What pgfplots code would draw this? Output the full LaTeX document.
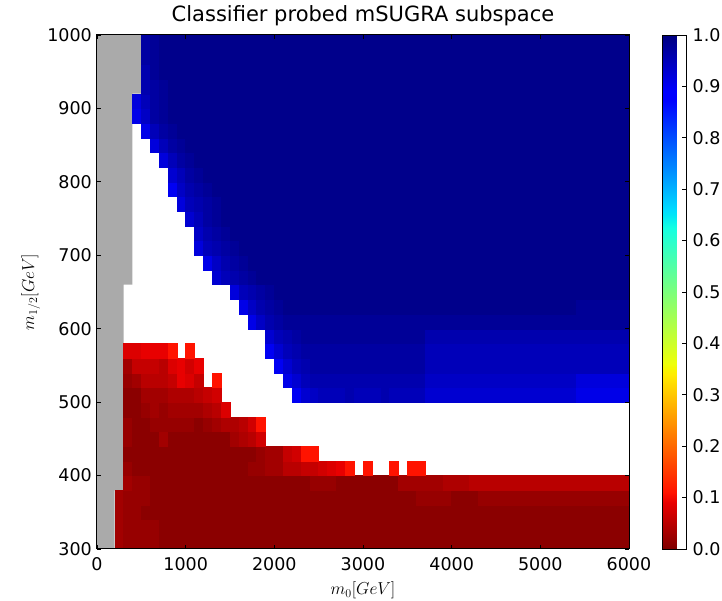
\documentclass[border=0pt]{standalone}
\usepackage{fontspec}
\setmainfont{DejaVu Sans}
\usepackage{pgfplots}
\pgfplotsset{compat=1.18}
\definecolor{grayc}{RGB}{170,170,170}
\begin{document}
\begin{tikzpicture}
\path[use as bounding box] (-97pt,-52pt) rectangle (625pt,549pt);
\begin{axis}[
 at={(0,0)}, anchor=south west,
 scale only axis, width=532pt, height=514pt,
 xmin=0, xmax=6000, ymin=300, ymax=1000,
 enlargelimits=false,
 xtick={0,1000,...,6000}, ytick={300,400,...,1000},
 tick align=inside, major tick length=4pt,
 tick style={black, line width=0.8pt},
 axis line style={line width=1pt},
 axis on top,
 /pgf/number format/assume math mode=true,
 /pgf/number format/1000 sep={},
 tick label style={font=\fontsize{17.5}{21}\selectfont},
 xticklabel style={anchor=north, inner sep=0pt, yshift=-8pt},
 yticklabel style={anchor=east, inner sep=0pt, xshift=-5pt},
 title={Classifier probed mSUGRA subspace},
 title style={font=\fontsize{21}{25}\selectfont, at={(axis description cs:0.5,1)}, anchor=base, yshift=7pt},
 xlabel={$m_0[GeV]$},
 xlabel style={font=\fontsize{18}{22}\selectfont, at={(axis description cs:0.5,0)}, anchor=base, yshift=-46pt},
 ylabel={$m_{1/2}[GeV]$},
 ylabel style={font=\fontsize{18}{22}\selectfont, at={(axis description cs:-0.1184,0.5)}, anchor=base, rotate=0},
 colormap={jetr}{rgb(0pt)=(0.5,0,0); rgb(9pt)=(0.909,0,0); rgb(11pt)=(1,0.074,0); rgb(34pt)=(1,0.926,0); rgb(35pt)=(0.968,0.963,0); rgb(36pt)=(0.935,1,0.032); rgb(62.5pt)=(0.0806,1,0.887); rgb(65pt)=(0,0.9,0.968); rgb(66pt)=(0,0.86,1); rgb(87.5pt)=(0,0,1); rgb(89pt)=(0,0,1); rgb(100pt)=(0,0,0.5)},
 point meta min=0, point meta max=100,
 colorbar,
 colorbar style={
  at={(parent axis.north east)}, anchor=north west, xshift=25pt,
  scale only axis, width=24pt, height=514pt,
  ytick={0,10,...,100},
  yticklabels={0.0,0.1,0.2,0.3,0.4,0.5,0.6,0.7,0.8,0.9,1.0},
  ytick pos=right, yticklabel pos=right,
  tick align=inside, major tick length=5pt,
  tick style={black, line width=0.8pt},
  axis line style={line width=0.8pt},
  yticklabel style={font=\fontsize{17.5}{21}\selectfont, anchor=west, inner sep=0pt, xshift=6pt},
 },
]
\addplot[fill=grayc, draw=none] coordinates {(0,300) (200,300) (200,380) (300,380) (300,660) (400,660) (400,920) (500,920) (500,1000) (0,1000)} -- cycle;
\addplot[matrix plot*, mesh/cols=60, mesh/rows=35, point meta=explicit, unbounded coords=jump]
 table[header=false, row sep=\\, x expr={100*(\coordindex-60*floor((\coordindex+0.5)/60))+50}, y expr={20*floor((\coordindex+0.5)/60)+310}, meta index=0] {%
nan\\nan\\3\\2\\2\\2\\2\\1\\1\\1\\%
1\\1\\1\\1\\1\\1\\1\\1\\1\\1\\%
1\\1\\1\\1\\1\\1\\1\\1\\1\\1\\%
1\\1\\1\\1\\1\\1\\1\\1\\1\\1\\%
1\\1\\1\\1\\1\\1\\1\\1\\1\\1\\%
1\\1\\1\\1\\1\\1\\1\\1\\1\\1\\%
nan\\nan\\3\\2\\2\\2\\2\\1\\1\\1\\%
1\\1\\1\\1\\1\\1\\1\\1\\1\\1\\%
1\\1\\1\\1\\1\\1\\1\\1\\1\\1\\%
1\\1\\1\\1\\1\\1\\1\\1\\1\\1\\%
1\\1\\1\\1\\1\\1\\1\\1\\1\\1\\%
1\\1\\1\\1\\1\\1\\1\\1\\1\\1\\%
nan\\nan\\3\\2\\2\\1\\1\\1\\1\\1\\%
1\\1\\1\\1\\1\\1\\1\\1\\1\\1\\%
1\\1\\1\\1\\1\\1\\1\\1\\1\\1\\%
1\\1\\1\\1\\1\\1\\1\\1\\1\\1\\%
1\\1\\1\\1\\1\\1\\1\\1\\1\\1\\%
1\\1\\1\\1\\1\\1\\1\\1\\1\\1\\%
nan\\nan\\3\\2\\2\\2\\1\\1\\1\\1\\%
1\\1\\1\\1\\1\\1\\1\\1\\1\\1\\%
1\\1\\1\\1\\1\\1\\1\\1\\1\\1\\%
1\\1\\1\\1\\1\\1\\2\\2\\2\\2\\%
1\\1\\1\\2\\2\\2\\2\\2\\2\\2\\%
2\\2\\2\\2\\2\\2\\2\\2\\2\\2\\%
nan\\nan\\nan\\3\\2\\2\\1\\1\\1\\1\\%
1\\1\\1\\1\\1\\1\\1\\1\\1\\1\\%
1\\1\\1\\1\\2\\2\\2\\1\\1\\1\\%
1\\1\\1\\1\\3\\3\\3\\3\\3\\4\\%
4\\4\\5\\5\\5\\5\\5\\5\\5\\5\\%
5\\5\\5\\5\\5\\5\\5\\5\\5\\5\\%
nan\\nan\\nan\\2\\1\\1\\1\\1\\1\\1\\%
1\\1\\1\\1\\1\\1\\1\\2\\2\\3\\%
3\\5\\5\\6\\6\\7\\8\\9\\11\\nan\\%
11\\nan\\nan\\11\\nan\\11\\11\\nan\\nan\\nan\\%
nan\\nan\\nan\\nan\\nan\\nan\\nan\\nan\\nan\\nan\\%
nan\\nan\\nan\\nan\\nan\\nan\\nan\\nan\\nan\\nan\\%
nan\\nan\\nan\\1\\1\\1\\1\\1\\1\\1\\%
1\\1\\1\\1\\1\\1\\1\\1\\2\\3\\%
3\\6\\7\\11\\11\\nan\\nan\\nan\\nan\\nan\\%
nan\\nan\\nan\\nan\\nan\\nan\\nan\\nan\\nan\\nan\\%
nan\\nan\\nan\\nan\\nan\\nan\\nan\\nan\\nan\\nan\\%
nan\\nan\\nan\\nan\\nan\\nan\\nan\\nan\\nan\\nan\\%
nan\\nan\\nan\\2\\1\\1\\1\\3\\1\\1\\%
1\\1\\1\\1\\1\\3\\4\\5\\7\\nan\\%
nan\\nan\\nan\\nan\\nan\\nan\\nan\\nan\\nan\\nan\\%
nan\\nan\\nan\\nan\\nan\\nan\\nan\\nan\\nan\\nan\\%
nan\\nan\\nan\\nan\\nan\\nan\\nan\\nan\\nan\\nan\\%
nan\\nan\\nan\\nan\\nan\\nan\\nan\\nan\\nan\\nan\\%
nan\\nan\\nan\\2\\1\\1\\2\\2\\2\\2\\%
2\\1\\2\\3\\4\\4\\5\\7\\11\\nan\\%
nan\\nan\\nan\\nan\\nan\\nan\\nan\\nan\\nan\\nan\\%
nan\\nan\\nan\\nan\\nan\\nan\\nan\\nan\\nan\\nan\\%
nan\\nan\\nan\\nan\\nan\\nan\\nan\\nan\\nan\\nan\\%
nan\\nan\\nan\\nan\\nan\\nan\\nan\\nan\\nan\\nan\\%
nan\\nan\\nan\\1\\1\\2\\3\\2\\3\\3\\%
3\\3\\4\\5\\8\\nan\\nan\\nan\\nan\\nan\\%
nan\\nan\\nan\\nan\\nan\\nan\\nan\\nan\\nan\\nan\\%
nan\\nan\\nan\\nan\\nan\\nan\\nan\\nan\\nan\\nan\\%
nan\\nan\\nan\\nan\\nan\\nan\\nan\\nan\\nan\\nan\\%
nan\\nan\\nan\\nan\\nan\\nan\\nan\\nan\\nan\\nan\\%
nan\\nan\\nan\\1\\1\\3\\3\\3\\4\\4\\%
4\\5\\6\\7\\nan\\nan\\nan\\nan\\nan\\nan\\%
nan\\nan\\90\\93\\94\\95\\95\\95\\96\\95\\%
95\\95\\96\\95\\95\\95\\95\\93\\93\\93\\%
93\\93\\93\\93\\93\\93\\93\\93\\93\\93\\%
93\\93\\93\\93\\91\\91\\91\\91\\91\\91\\%
nan\\nan\\nan\\2\\3\\5\\5\\5\\6\\9\\%
8\\6\\nan\\11\\nan\\nan\\nan\\nan\\nan\\nan\\%
nan\\91\\93\\95\\96\\96\\96\\96\\96\\96\\%
96\\96\\96\\96\\96\\96\\96\\94\\94\\94\\%
94\\94\\94\\94\\94\\94\\94\\94\\94\\94\\%
94\\94\\94\\94\\92\\92\\92\\92\\92\\92\\%
nan\\nan\\nan\\3\\6\\6\\6\\5\\8\\9\\%
7\\9\\nan\\nan\\nan\\nan\\nan\\nan\\nan\\nan\\%
90\\93\\95\\96\\97\\97\\97\\97\\97\\97\\%
97\\97\\97\\97\\97\\97\\97\\95\\95\\95\\%
95\\95\\95\\95\\95\\95\\95\\95\\95\\95\\%
95\\95\\95\\95\\95\\95\\95\\95\\95\\95\\%
nan\\nan\\nan\\8\\8\\9\\9\\9\\11\\nan\\%
11\\nan\\nan\\nan\\nan\\nan\\nan\\nan\\nan\\90\\%
93\\95\\96\\97\\97\\97\\97\\97\\97\\97\\%
97\\97\\97\\97\\97\\97\\97\\95\\95\\95\\%
95\\95\\95\\95\\95\\95\\95\\95\\95\\95\\%
95\\95\\95\\95\\95\\95\\95\\95\\95\\95\\%
nan\\nan\\nan\\nan\\nan\\nan\\nan\\nan\\nan\\nan\\%
nan\\nan\\nan\\nan\\nan\\nan\\nan\\nan\\nan\\93\\%
95\\96\\97\\98\\98\\98\\98\\98\\98\\98\\%
98\\98\\98\\98\\98\\98\\98\\96\\96\\96\\%
96\\96\\96\\96\\96\\96\\96\\96\\96\\96\\%
96\\96\\96\\96\\96\\96\\96\\96\\96\\96\\%
nan\\nan\\nan\\nan\\nan\\nan\\nan\\nan\\nan\\nan\\%
nan\\nan\\nan\\nan\\nan\\nan\\nan\\91\\94\\96\\%
97\\98\\98\\98\\98\\98\\98\\98\\98\\98\\%
98\\98\\98\\98\\98\\98\\98\\98\\98\\98\\%
98\\98\\98\\98\\98\\98\\98\\98\\98\\98\\%
98\\98\\98\\98\\98\\98\\98\\98\\98\\98\\%
nan\\nan\\nan\\nan\\nan\\nan\\nan\\nan\\nan\\nan\\%
nan\\nan\\nan\\nan\\nan\\nan\\91\\94\\96\\97\\%
98\\99\\99\\99\\99\\99\\99\\99\\99\\99\\%
99\\99\\99\\99\\99\\99\\99\\99\\99\\99\\%
99\\99\\99\\99\\99\\99\\99\\99\\99\\99\\%
99\\99\\99\\99\\98\\98\\98\\98\\98\\98\\%
nan\\nan\\nan\\nan\\nan\\nan\\nan\\nan\\nan\\nan\\%
nan\\nan\\nan\\nan\\nan\\92\\95\\96\\97\\98\\%
99\\99\\99\\99\\99\\99\\99\\99\\99\\99\\%
99\\99\\99\\99\\99\\99\\99\\99\\99\\99\\%
99\\99\\99\\99\\99\\99\\99\\99\\99\\99\\%
99\\99\\99\\99\\99\\99\\99\\99\\99\\99\\%
nan\\nan\\nan\\nan\\nan\\nan\\nan\\nan\\nan\\nan\\%
nan\\nan\\nan\\93\\95\\96\\97\\98\\99\\99\\%
99\\99\\99\\99\\99\\99\\99\\99\\99\\99\\%
99\\99\\99\\99\\99\\99\\99\\99\\99\\99\\%
99\\99\\99\\99\\99\\99\\99\\99\\99\\99\\%
99\\99\\99\\99\\99\\99\\99\\99\\99\\99\\%
nan\\nan\\nan\\nan\\nan\\nan\\nan\\nan\\nan\\nan\\%
nan\\nan\\91\\94\\96\\97\\98\\99\\99\\99\\%
99\\99\\99\\99\\99\\99\\99\\99\\99\\99\\%
99\\99\\99\\99\\99\\99\\99\\99\\99\\99\\%
99\\99\\99\\99\\99\\99\\99\\99\\99\\99\\%
99\\99\\99\\99\\99\\99\\99\\99\\99\\99\\%
nan\\nan\\nan\\nan\\nan\\nan\\nan\\nan\\nan\\nan\\%
nan\\92\\95\\96\\97\\98\\99\\99\\99\\99\\%
99\\99\\99\\99\\99\\99\\99\\99\\99\\99\\%
99\\99\\99\\99\\99\\99\\99\\99\\99\\99\\%
99\\99\\99\\99\\99\\99\\99\\99\\99\\99\\%
99\\99\\99\\99\\99\\99\\99\\99\\99\\99\\%
nan\\nan\\nan\\nan\\nan\\nan\\nan\\nan\\nan\\nan\\%
nan\\94\\96\\97\\98\\99\\99\\99\\99\\99\\%
99\\99\\99\\99\\99\\99\\99\\99\\99\\99\\%
99\\99\\99\\99\\99\\99\\99\\99\\99\\99\\%
99\\99\\99\\99\\99\\99\\99\\99\\99\\99\\%
99\\99\\99\\99\\99\\99\\99\\99\\99\\99\\%
nan\\nan\\nan\\nan\\nan\\nan\\nan\\nan\\nan\\nan\\%
93\\95\\97\\98\\99\\99\\99\\99\\99\\99\\%
99\\99\\99\\99\\99\\99\\99\\99\\99\\99\\%
99\\99\\99\\99\\99\\99\\99\\99\\99\\99\\%
99\\99\\99\\99\\99\\99\\99\\99\\99\\99\\%
99\\99\\99\\99\\99\\99\\99\\99\\99\\99\\%
nan\\nan\\nan\\nan\\nan\\nan\\nan\\nan\\nan\\92\\%
95\\96\\97\\98\\99\\99\\99\\99\\99\\99\\%
99\\99\\99\\99\\99\\99\\99\\99\\99\\99\\%
99\\99\\99\\99\\99\\99\\99\\99\\99\\99\\%
99\\99\\99\\99\\99\\99\\99\\99\\99\\99\\%
99\\99\\99\\99\\99\\99\\99\\99\\99\\99\\%
nan\\nan\\nan\\nan\\nan\\nan\\nan\\nan\\90\\94\\%
96\\97\\98\\99\\99\\99\\99\\99\\99\\99\\%
99\\99\\99\\99\\99\\99\\99\\99\\99\\99\\%
99\\99\\99\\99\\99\\99\\99\\99\\99\\99\\%
99\\99\\99\\99\\99\\99\\99\\99\\99\\99\\%
99\\99\\99\\99\\99\\99\\99\\99\\99\\99\\%
nan\\nan\\nan\\nan\\nan\\nan\\nan\\nan\\93\\95\\%
97\\98\\99\\99\\99\\99\\99\\99\\99\\99\\%
99\\99\\99\\99\\99\\99\\99\\99\\99\\99\\%
99\\99\\99\\99\\99\\99\\99\\99\\99\\99\\%
99\\99\\99\\99\\99\\99\\99\\99\\99\\99\\%
99\\99\\99\\99\\99\\99\\99\\99\\99\\99\\%
nan\\nan\\nan\\nan\\nan\\nan\\nan\\92\\95\\97\\%
98\\99\\99\\99\\99\\99\\99\\99\\99\\99\\%
99\\99\\99\\99\\99\\99\\99\\99\\99\\99\\%
99\\99\\99\\99\\99\\99\\99\\99\\99\\99\\%
99\\99\\99\\99\\99\\99\\99\\99\\99\\99\\%
99\\99\\99\\99\\99\\99\\99\\99\\99\\99\\%
nan\\nan\\nan\\nan\\nan\\nan\\92\\95\\97\\98\\%
99\\99\\99\\99\\99\\99\\99\\99\\99\\99\\%
99\\99\\99\\99\\99\\99\\99\\99\\99\\99\\%
99\\99\\99\\99\\99\\99\\99\\99\\99\\99\\%
99\\99\\99\\99\\99\\99\\99\\99\\99\\99\\%
99\\99\\99\\99\\99\\99\\99\\99\\99\\99\\%
nan\\nan\\nan\\nan\\nan\\91\\95\\97\\98\\99\\%
99\\99\\99\\99\\99\\99\\99\\99\\99\\99\\%
99\\99\\99\\99\\99\\99\\99\\99\\99\\99\\%
99\\99\\99\\99\\99\\99\\99\\99\\99\\99\\%
99\\99\\99\\99\\99\\99\\99\\99\\99\\99\\%
99\\99\\99\\99\\99\\99\\99\\99\\99\\99\\%
nan\\nan\\nan\\nan\\91\\94\\97\\98\\99\\99\\%
99\\99\\99\\99\\99\\99\\99\\99\\99\\99\\%
99\\99\\99\\99\\99\\99\\99\\99\\99\\99\\%
99\\99\\99\\99\\99\\99\\99\\99\\99\\99\\%
99\\99\\99\\99\\99\\99\\99\\99\\99\\99\\%
99\\99\\99\\99\\99\\99\\99\\99\\99\\99\\%
nan\\nan\\nan\\nan\\92\\95\\97\\98\\99\\99\\%
99\\99\\99\\99\\99\\99\\99\\99\\99\\99\\%
99\\99\\99\\99\\99\\99\\99\\99\\99\\99\\%
99\\99\\99\\99\\99\\99\\99\\99\\99\\99\\%
99\\99\\99\\99\\99\\99\\99\\99\\99\\99\\%
99\\99\\99\\99\\99\\99\\99\\99\\99\\99\\%
nan\\nan\\nan\\nan\\nan\\96\\97\\98\\99\\99\\%
99\\99\\99\\99\\99\\99\\99\\99\\99\\99\\%
99\\99\\99\\99\\99\\99\\99\\99\\99\\99\\%
99\\99\\99\\99\\99\\99\\99\\99\\99\\99\\%
99\\99\\99\\99\\99\\99\\99\\99\\99\\99\\%
99\\99\\99\\99\\99\\99\\99\\99\\99\\99\\%
nan\\nan\\nan\\nan\\nan\\96\\98\\99\\99\\99\\%
99\\99\\99\\99\\99\\99\\99\\99\\99\\99\\%
99\\99\\99\\99\\99\\99\\99\\99\\99\\99\\%
99\\99\\99\\99\\99\\99\\99\\99\\99\\99\\%
99\\99\\99\\99\\99\\99\\99\\99\\99\\99\\%
99\\99\\99\\99\\99\\99\\99\\99\\99\\99\\%
nan\\nan\\nan\\nan\\nan\\97\\98\\99\\99\\99\\%
99\\99\\99\\99\\99\\99\\99\\99\\99\\99\\%
99\\99\\99\\99\\99\\99\\99\\99\\99\\99\\%
99\\99\\99\\99\\99\\99\\99\\99\\99\\99\\%
99\\99\\99\\99\\99\\99\\99\\99\\99\\99\\%
99\\99\\99\\99\\99\\99\\99\\99\\99\\99\\%
nan\\nan\\nan\\nan\\nan\\97\\98\\99\\99\\99\\%
99\\99\\99\\99\\99\\99\\99\\99\\99\\99\\%
99\\99\\99\\99\\99\\99\\99\\99\\99\\99\\%
99\\99\\99\\99\\99\\99\\99\\99\\99\\99\\%
99\\99\\99\\99\\99\\99\\99\\99\\99\\99\\%
99\\99\\99\\99\\99\\99\\99\\99\\99\\99\\%
};
\end{axis}
\end{tikzpicture}
\end{document}
